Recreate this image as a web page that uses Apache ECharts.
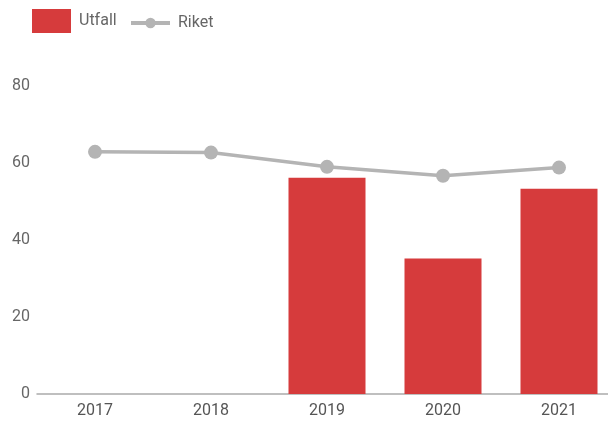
<!DOCTYPE html>
<html><head><meta charset="utf-8">
<script src="https://cdn.jsdelivr.net/npm/echarts@6/dist/echarts.min.js"></script>
<style>html,body{margin:0;padding:0;background:#fff;overflow:hidden}#c{width:617px;height:421px}</style>
</head><body><div id="c"></div>
<script>
const categories = ['2017','2018','2019','2020','2021'];
const utfall = [null, null, 56.2, 35.2, 53.3];
const riket = [62.9, 62.7, 59.0, 56.7, 58.8];
const yTicks = [0, 20, 40, 60, 80];

const chart = echarts.init(document.getElementById('c'));
chart.setOption({
  animation: false,
  textStyle: { fontFamily: 'Roboto' },
  legend: [{
    left: 32, top: 9, padding: 0, itemWidth: 39, itemHeight: 24, itemGap: 8,
    textStyle: { fontSize: 16, color: '#666', fontFamily: 'Roboto', padding: [0, 0, 0, 3] },
    data: [{ name: 'Utfall', icon: 'rect' }]
  }, {
    left: 129, top: 15, padding: 0, itemWidth: 39, itemHeight: 13, itemGap: 8,
    lineStyle: { width: 4 },
    textStyle: { fontSize: 16, color: '#666', fontFamily: 'Roboto', padding: [0, 0, 0, 3] },
    data: [{ name: 'Riket' }]
  }],
  grid: { left: 37, top: 86, right: 0, height: 308 },
  xAxis: {
    type: 'category', data: categories,
    axisLine: { lineStyle: { color: '#aaa', width: 1.5 } },
    axisTick: { show: false },
    axisLabel: { fontSize: 16, color: '#555', margin: 9, fontFamily: 'Roboto' }
  },
  yAxis: {
    type: 'value', min: yTicks[0], max: yTicks[yTicks.length - 1], interval: 20,
    splitLine: { show: false },
    axisLine: { show: false }, axisTick: { show: false },
    axisLabel: { fontSize: 16, color: '#666', margin: 7, fontFamily: 'Roboto' }
  },
  series: [
    { name: 'Utfall', type: 'bar', data: utfall, barWidth: 77,
      itemStyle: { color: '#d63b3c' } },
    { name: 'Riket', type: 'line', data: riket, symbol: 'circle', symbolSize: 14,
      lineStyle: { color: '#b4b4b4', width: 3.5 },
      itemStyle: { color: '#b4b4b4' } }
  ]
});
</script></body></html>
